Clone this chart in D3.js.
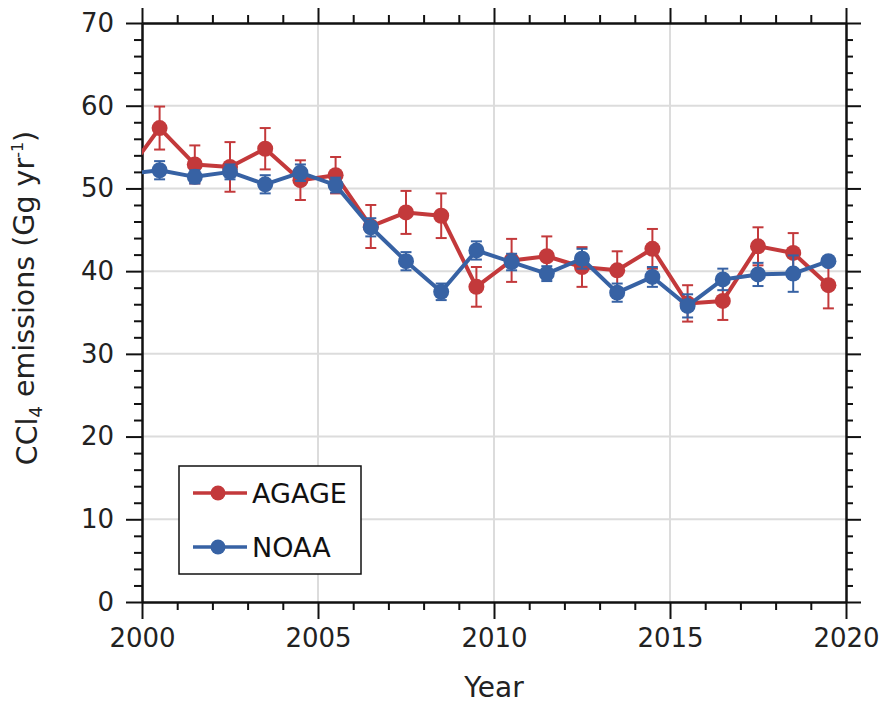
<!DOCTYPE html>
<html>
<head>
<meta charset="utf-8">
<script src="https://cdn.jsdelivr.net/npm/d3@7"></script>
<style>
  body { margin: 0; background: white; }
  svg { display: block; font-family: "DejaVu Sans", Verdana, sans-serif; }
</style>
</head>
<body>
<div id="chart"></div>
<script>
// mid-year points; the 1999.5 value only shows as the line entering at 2000
const years = [1999.5, 2000.5, 2001.5, 2002.5, 2003.5, 2004.5, 2005.5, 2006.5, 2007.5, 2008.5, 2009.5,
  2010.5, 2011.5, 2012.5, 2013.5, 2014.5, 2015.5, 2016.5, 2017.5, 2018.5, 2019.5];
const agage = [51.5, 57.3, 52.9, 52.6, 54.8, 51.0, 51.6, 45.4, 47.1, 46.7, 38.1,
  41.3, 41.8, 40.5, 40.1, 42.7, 36.1, 36.4, 43.0, 42.2, 38.3];
const agageErr = [0, 2.6, 2.3, 3.0, 2.5, 2.4, 2.2, 2.6, 2.6, 2.7, 2.4,
  2.6, 2.4, 2.4, 2.3, 2.4, 2.2, 2.3, 2.3, 2.4, 2.8];
const noaa = [51.7, 52.2, 51.4, 52.0, 50.5, 51.9, 50.4, 45.3, 41.2, 37.5, 42.5,
  41.1, 39.7, 41.5, 37.4, 39.3, 35.8, 39.0, 39.6, 39.7, 41.2];
const noaaErr = [0, 1.1, 0.8, 0.9, 1.1, 1.0, 0.9, 1.1, 1.1, 1.0, 1.1,
  1.0, 0.9, 1.2, 1.1, 1.2, 1.4, 1.3, 1.4, 2.2, 0];
const seriesNames = ["AGAGE", "NOAA"];
const seriesColors = ["#c3393b", "#3762a4"];

const width = 880, height = 704;
const margin = { top: 23, right: 34, bottom: 102, left: 142 };
const innerW = width - margin.left - margin.right;
const innerH = height - margin.top - margin.bottom;
const fontFamily = '"DejaVu Sans", Verdana, sans-serif';

const svg = d3.select('#chart').append('svg')
  .attr('width', width)
  .attr('height', height);

const g = svg.append('g').attr('transform', `translate(${margin.left},${margin.top})`);

const x = d3.scaleLinear().domain([2000, 2020]).range([0, innerW]);
const y = d3.scaleLinear().domain([0, 70]).range([innerH, 0]);

svg.append('defs').append('clipPath').attr('id', 'plotClip')
  .append('rect').attr('width', innerW).attr('height', innerH);

// grid
g.append('g').selectAll('line')
  .data([10, 20, 30, 40, 50, 60])
  .enter().append('line')
  .attr('x1', 0).attr('x2', innerW)
  .attr('y1', d => y(d)).attr('y2', d => y(d))
  .attr('stroke', '#dcdcdc').attr('stroke-width', 2);
g.append('g').selectAll('line')
  .data([2005, 2010, 2015])
  .enter().append('line')
  .attr('y1', 0).attr('y2', innerH)
  .attr('x1', d => x(d)).attr('x2', d => x(d))
  .attr('stroke', '#dcdcdc').attr('stroke-width', 2);

// axes: major + minor ticks, outward on all four sides
function styleAxis(sel) {
  sel.attr('font-family', fontFamily).attr('font-size', 26);
  sel.selectAll('path').attr('stroke', '#111').attr('stroke-width', 2);
  sel.selectAll('line').attr('stroke', '#111').attr('stroke-width', 2);
  sel.selectAll('text').attr('fill', '#222');
}
const xMajor = d3.range(2000, 2021, 5);
const xMinor = d3.range(2000, 2021, 1).filter(v => v % 5 !== 0);
const yMajor = d3.range(0, 71, 10);
const yMinor = d3.range(0, 71, 2).filter(v => v % 10 !== 0);

g.append('g').attr('transform', `translate(0,${innerH})`)
  .call(d3.axisBottom(x).tickValues(xMajor).tickFormat(d3.format('d')).tickSize(17).tickSizeOuter(0).tickPadding(10))
  .call(styleAxis);
g.append('g').attr('transform', `translate(0,${innerH})`)
  .call(d3.axisBottom(x).tickValues(xMinor).tickFormat('').tickSize(8).tickSizeOuter(0))
  .call(styleAxis);
g.append('g')
  .call(d3.axisTop(x).tickValues(xMajor).tickFormat('').tickSize(15).tickSizeOuter(0))
  .call(styleAxis);
g.append('g')
  .call(d3.axisTop(x).tickValues(xMinor).tickFormat('').tickSize(8).tickSizeOuter(0))
  .call(styleAxis);
g.append('g')
  .call(d3.axisLeft(y).tickValues(yMajor).tickSize(16).tickSizeOuter(0).tickPadding(12))
  .call(styleAxis);
g.append('g')
  .call(d3.axisLeft(y).tickValues(yMinor).tickFormat('').tickSize(8).tickSizeOuter(0))
  .call(styleAxis);
g.append('g').attr('transform', `translate(${innerW},0)`)
  .call(d3.axisRight(y).tickValues(yMajor).tickFormat('').tickSize(15).tickSizeOuter(0))
  .call(styleAxis);
g.append('g').attr('transform', `translate(${innerW},0)`)
  .call(d3.axisRight(y).tickValues(yMinor).tickFormat('').tickSize(7).tickSizeOuter(0))
  .call(styleAxis);

// series
const series = [
  { name: seriesNames[0], color: seriesColors[0], values: agage, errs: agageErr },
  { name: seriesNames[1], color: seriesColors[1], values: noaa, errs: noaaErr }
];
const plot = g.append('g').attr('clip-path', 'url(#plotClip)');
const line = d3.line().x(d => x(d.year)).y(d => y(d.v));

series.forEach(s => {
  const pts = years.map((yr, i) => ({ year: yr, v: s.values[i], e: s.errs[i] }));
  const sg = plot.append('g');
  sg.append('path')
    .datum(pts)
    .attr('d', line)
    .attr('fill', 'none')
    .attr('stroke', s.color)
    .attr('stroke-width', 4)
    .attr('stroke-linejoin', 'round');

  const eb = sg.append('g').selectAll('g')
    .data(pts.filter(d => d.e > 0))
    .enter().append('g')
    .attr('stroke', s.color)
    .attr('stroke-width', 2);
  eb.append('line')
    .attr('x1', d => x(d.year)).attr('x2', d => x(d.year))
    .attr('y1', d => y(d.v - d.e)).attr('y2', d => y(d.v + d.e));
  eb.append('line')
    .attr('x1', d => x(d.year) - 5.5).attr('x2', d => x(d.year) + 5.5)
    .attr('y1', d => y(d.v + d.e)).attr('y2', d => y(d.v + d.e));
  eb.append('line')
    .attr('x1', d => x(d.year) - 5.5).attr('x2', d => x(d.year) + 5.5)
    .attr('y1', d => y(d.v - d.e)).attr('y2', d => y(d.v - d.e));

  sg.append('g').selectAll('circle')
    .data(pts)
    .enter().append('circle')
    .attr('cx', d => x(d.year))
    .attr('cy', d => y(d.v))
    .attr('r', 8)
    .attr('fill', s.color);
});

// legend
const legend = g.append('g').attr('transform', 'translate(37,443)');
legend.append('rect')
  .attr('width', 182).attr('height', 108)
  .attr('fill', 'white').attr('stroke', '#111').attr('stroke-width', 1.5);
const li = legend.selectAll('g.item')
  .data(series)
  .enter().append('g')
  .attr('class', 'item')
  .attr('transform', (d, i) => `translate(0,${27 + i * 54})`);
li.append('line')
  .attr('x1', 14).attr('x2', 68)
  .attr('stroke', d => d.color).attr('stroke-width', 3.5);
li.append('circle')
  .attr('cx', 39).attr('r', 7.5)
  .attr('fill', d => d.color);
li.append('text')
  .attr('x', 73).attr('dy', '0.36em')
  .attr('font-size', '27px').attr('fill', '#111')
  .text(d => d.name);

// axis titles
svg.append('text')
  .attr('x', margin.left + innerW / 2)
  .attr('y', 697)
  .attr('text-anchor', 'middle')
  .attr('font-size', '28px').attr('fill', '#222')
  .text('Year');

const yTitle = svg.append('text')
  .attr('transform', 'translate(37,298) rotate(-90)')
  .attr('text-anchor', 'middle')
  .attr('font-size', '28.5px').attr('fill', '#222');
yTitle.append('tspan').text('CCl');
yTitle.append('tspan').attr('font-size', '18px').attr('dy', '0.3em').text('4');
yTitle.append('tspan').attr('dy', '-0.3em').text(' emissions (Gg yr');
yTitle.append('tspan').attr('font-size', '16px').attr('dy', '-0.7em').text('-1');
yTitle.append('tspan').attr('dy', '0.45em').text(')');
</script>
</body>
</html>
